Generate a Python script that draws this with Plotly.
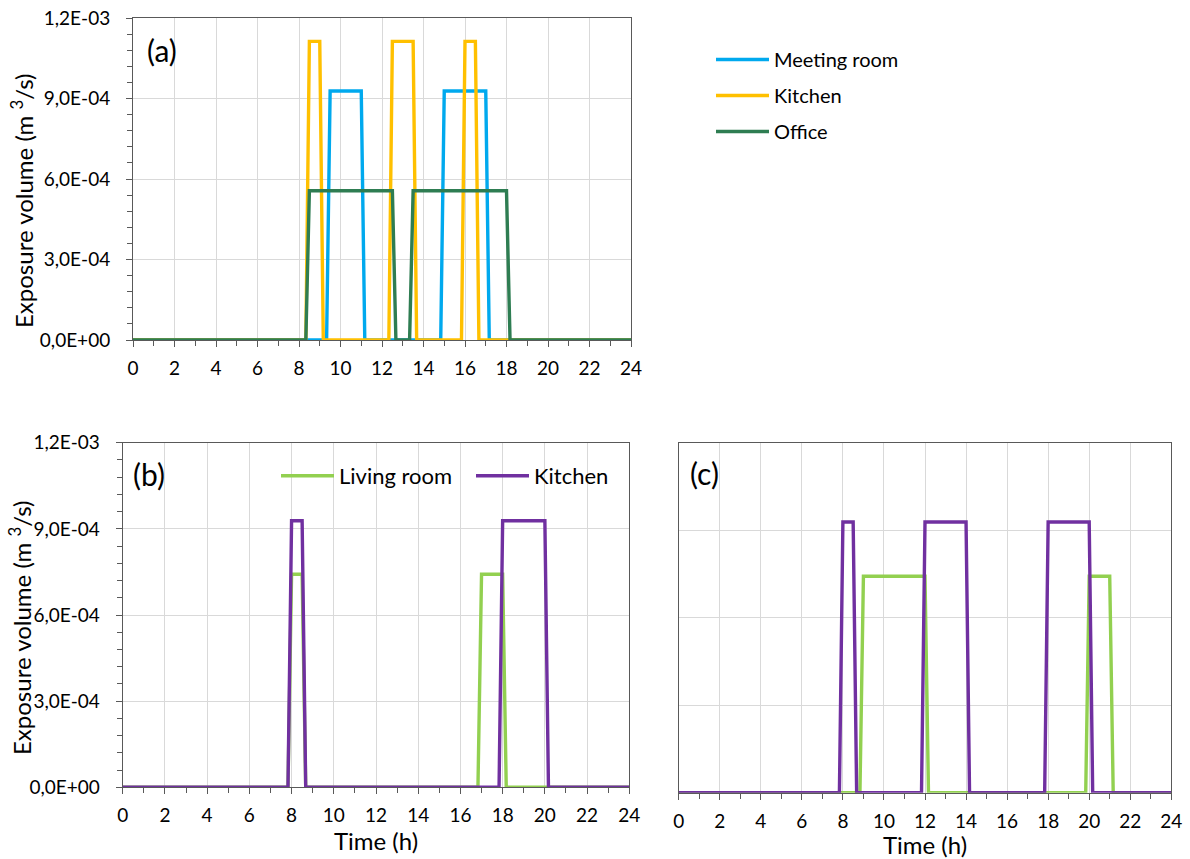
import plotly.graph_objects as go

# ---------------- data ----------------
# Panel (a)
meeting_t = [0, 9.33, 9.5, 11.0, 11.17, 14.83, 15.0, 17.0, 17.17, 24]
meeting_v = [0, 0, 9.28e-4, 9.28e-4, 0, 0, 9.28e-4, 9.28e-4, 0, 0]

kitchen_a_t = [0, 8.33, 8.5, 9.0, 9.17, 12.33, 12.5, 13.5, 13.67, 15.83, 16.0, 16.5, 16.67, 24]
kitchen_a_v = [0, 0, 1.113e-3, 1.113e-3, 0, 0, 1.113e-3, 1.113e-3, 0, 0, 1.113e-3, 1.113e-3, 0, 0]

office_t = [0, 8.33, 8.5, 12.5, 12.67, 13.33, 13.5, 18.0, 18.17, 24]
office_v = [0, 0, 5.56e-4, 5.56e-4, 0, 0, 5.56e-4, 5.56e-4, 0, 0]

# Panel (b)
living_b_t = [0, 7.83, 8.0, 8.5, 8.67, 16.83, 17.0, 18.0, 18.17, 24]
living_b_v = [0, 0, 7.42e-4, 7.42e-4, 0, 0, 7.42e-4, 7.42e-4, 0, 0]

kitchen_b_t = [0, 7.83, 8.0, 8.5, 8.67, 17.83, 18.0, 20.0, 20.17, 24]
kitchen_b_v = [0, 0, 9.28e-4, 9.28e-4, 0, 0, 9.28e-4, 9.28e-4, 0, 0]

# Panel (c)
living_c_t = [0, 8.83, 9.0, 12.0, 12.17, 19.83, 20.0, 21.0, 21.17, 24]
living_c_v = [0, 0, 7.42e-4, 7.42e-4, 0, 0, 7.42e-4, 7.42e-4, 0, 0]

kitchen_c_t = [0, 7.83, 8.0, 8.5, 8.67, 11.83, 12.0, 14.0, 14.17, 17.83, 18.0, 20.0, 20.17, 24]
kitchen_c_v = [0, 0, 9.28e-4, 9.28e-4, 0, 0, 9.28e-4, 9.28e-4, 0, 0, 9.28e-4, 9.28e-4, 0, 0]

y_tickvals = [0, 3e-4, 6e-4, 9e-4, 1.2e-3]
y_ticktext = ["0,0E+00", "3,0E-04", "6,0E-04", "9,0E-04", "1,2E-03"]
x_ticks = list(range(0, 25, 2))
y_title = "Exposure volume (m <sup>3</sup>/s)"
x_title = "Time (h)"

# ---------------- styling ----------------
FONT = "Lato, Carlito, Calibri, Arial, sans-serif"
C_MEET = "#00A9EE"
C_KIT_A = "#FFC000"
C_OFF = "#2E7D52"
C_LIV = "#92D050"
C_KIT = "#7030A0"
LW = 3.4
W, H = 1190, 859


def px_x(p):
    return p / W


def px_y(p):
    return 1 - p / H


fig = go.Figure()

fig.add_trace(go.Scatter(x=meeting_t, y=meeting_v, mode="lines", name="Meeting room",
                         line=dict(color=C_MEET, width=LW), xaxis="x", yaxis="y",
                         legend="legend", legendgroup="m"))
fig.add_trace(go.Scatter(x=kitchen_a_t, y=kitchen_a_v, mode="lines", name="Kitchen",
                         line=dict(color=C_KIT_A, width=LW), xaxis="x", yaxis="y",
                         legend="legend", legendgroup="k"))
fig.add_trace(go.Scatter(x=office_t, y=office_v, mode="lines", name="Office",
                         line=dict(color=C_OFF, width=LW), xaxis="x", yaxis="y",
                         legend="legend", legendgroup="o"))

fig.add_trace(go.Scatter(x=living_b_t, y=living_b_v, mode="lines", name="Living room",
                         line=dict(color=C_LIV, width=LW), xaxis="x2", yaxis="y2",
                         legend="legend2"))
fig.add_trace(go.Scatter(x=kitchen_b_t, y=kitchen_b_v, mode="lines", name="Kitchen",
                         line=dict(color=C_KIT, width=LW), xaxis="x2", yaxis="y2",
                         legend="legend2"))

fig.add_trace(go.Scatter(x=living_c_t, y=living_c_v, mode="lines", name="Living room",
                         line=dict(color=C_LIV, width=LW), xaxis="x3", yaxis="y3",
                         showlegend=False))
fig.add_trace(go.Scatter(x=kitchen_c_t, y=kitchen_c_v, mode="lines", name="Kitchen",
                         line=dict(color=C_KIT, width=LW), xaxis="x3", yaxis="y3",
                         showlegend=False))

AX_LINE = "#595959"
GRID = "#D9D9D9"
TICKFONT = dict(family=FONT, size=19, color="#000000")
TITLEFONT = dict(family=FONT, size=24, color="#000000")


def xaxis(domain, anchor, title=None):
    d = dict(domain=domain, anchor=anchor, range=[0, 24], tickmode="array",
             tickvals=x_ticks, ticktext=[str(v) for v in x_ticks],
             showgrid=True, gridcolor=GRID, gridwidth=1,
             showline=True, linecolor=AX_LINE, linewidth=1, mirror=True,
             ticks="outside", ticklen=6, tickcolor=AX_LINE, tickwidth=1,
             minor=dict(tickmode="linear", tick0=0, dtick=1, ticks="outside",
                        ticklen=5, tickcolor=AX_LINE, showgrid=False),
             tickfont=TICKFONT, zeroline=False, fixedrange=True,
             ticklabelstandoff=5, automargin=False)
    if title:
        d["title"] = dict(text=title, font=TITLEFONT, standoff=4)
    return d


def yaxis(domain, anchor, labels=True):
    d = dict(domain=domain, anchor=anchor, range=[0, 1.2e-3], tickmode="array",
             tickvals=y_tickvals, ticktext=y_ticktext,
             showgrid=True, gridcolor=GRID, gridwidth=1,
             showline=True, linecolor=AX_LINE, linewidth=1, mirror=True,
             zeroline=False, fixedrange=True, tickfont=TICKFONT, automargin=False)
    if labels:
        d.update(ticks="outside", ticklen=6, tickcolor=AX_LINE, tickwidth=1,
                 minor=dict(tickmode="linear", tick0=0, dtick=6e-5, ticks="outside",
                            ticklen=5, tickcolor=AX_LINE, showgrid=False),
                 ticklabelstandoff=12)
    else:
        d.update(ticks="", showticklabels=False)
    return d


fig.update_layout(
    template="none",
    width=W, height=H, autosize=False,
    margin=dict(l=0, r=0, t=0, b=0, pad=0),
    paper_bgcolor="white", plot_bgcolor="white",
    font=dict(family=FONT, color="#000000"),
    xaxis=xaxis([px_x(133), px_x(631)], "y"),
    yaxis=yaxis([px_y(340), px_y(18)], "x"),
    xaxis2=xaxis([px_x(122.7), px_x(629.3)], "y2", x_title),
    yaxis2=yaxis([px_y(787.3), px_y(442.7)], "x2"),
    xaxis3=xaxis([px_x(678.7), px_x(1171.3)], "y3", x_title),
    yaxis3=yaxis([px_y(792.7), px_y(442.7)], "x3", labels=False),
    legend=dict(x=px_x(711), y=px_y(40), xanchor="left", yanchor="top",
                font=dict(family=FONT, size=20, color="#000000"),
                bgcolor="rgba(0,0,0,0)", itemwidth=53, tracegroupgap=7,
                traceorder="grouped", borderwidth=0),
    legend2=dict(x=px_x(276), y=px_y(455), xanchor="left", yanchor="top",
                 orientation="h", entrywidth=127,
                 font=dict(family=FONT, size=22, color="#000000"),
                 bgcolor="rgba(0,0,0,0)", itemwidth=53, borderwidth=0),
    showlegend=True,
)

# Y-axis titles (placed as in the reference, slightly below the axis centre)
for xc, yc in [(22, 201), (20, 628)]:
    fig.add_annotation(text=y_title, xref="paper", yref="paper", x=px_x(xc), y=px_y(yc),
                       xanchor="center", yanchor="middle", textangle=-90, showarrow=False,
                       font=TITLEFONT)

for txt, x, y in [("(a)", 145, 50), ("(b)", 131, 474), ("(c)", 688, 473)]:
    fig.add_annotation(text=txt, xref="paper", yref="paper", x=px_x(x), y=px_y(y),
                       xanchor="left", yanchor="middle", showarrow=False,
                       font=dict(family=FONT, size=30, color="#000000"))

fig.write_html("out.html", config={"displayModeBar": False},
               post_script="document.body.style.margin='0';")
